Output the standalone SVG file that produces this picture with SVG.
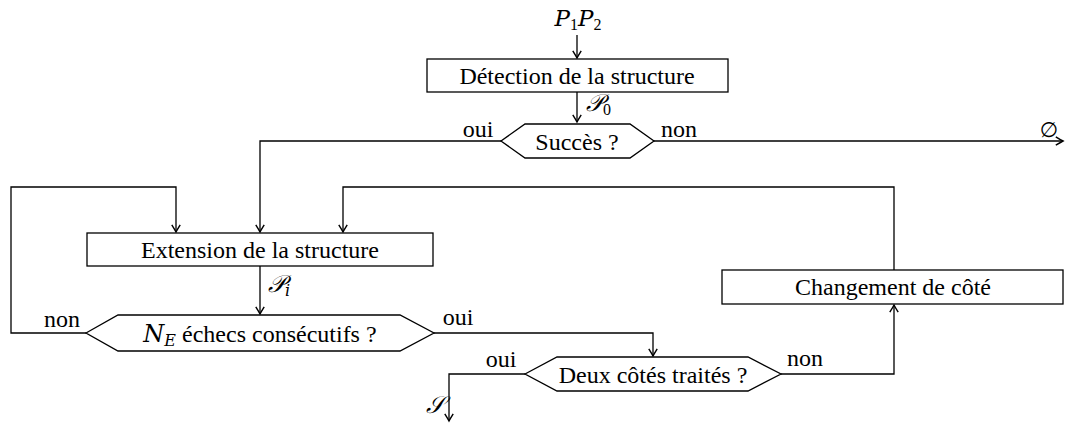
<svg xmlns="http://www.w3.org/2000/svg" width="1065" height="423" viewBox="0 0 1065 423">
<style>
text{font-family:"Liberation Serif","Times New Roman",serif;font-size:24px;fill:#000}
.m{font-family:"DejaVu Serif","Liberation Serif",serif;font-style:italic}
.s{font-size:16px}
.c{text-anchor:middle}
.sh{fill:#fff;stroke:#000;stroke-width:1.3}
.ln{fill:none;stroke:#000;stroke-width:1.3}
</style>
<defs>
<marker id="ar" markerUnits="userSpaceOnUse" markerWidth="12" markerHeight="12" viewBox="-8 -5 10 10" refX="0" refY="0" orient="auto">
<path d="M-6,-3.5 Q-2,-1 0,0 Q-2,1 -6,3.5" fill="none" stroke="#000" stroke-width="1.2"/>
</marker>
</defs>
<g id="connectors" class="ln" marker-end="url(#ar)">
<path d="M577,35 V58"/>
<path d="M577,92 V122"/>
<path d="M501,141 H260 V232"/>
<path d="M654,141 H1063"/>
<path d="M260,266 V314"/>
<path d="M86,333 H11 V187 H176 V232"/>
<path d="M894,270 V187 H343 V232"/>
<path d="M434,333 H653 V356"/>
<path d="M525,374 H449 V421"/>
<path d="M781,374 H894 V305"/>
</g>
<g id="input"><text x="578" y="26" class="c" style="font-size:23px"><tspan class="m">P</tspan><tspan class="s" dy="4" style="font-style:normal">1</tspan><tspan class="m" dy="-4">P</tspan><tspan class="s" dy="4">2</tspan></text></g>
<g id="detection"><rect class="sh" x="427" y="59" width="301" height="33"/><text x="577" y="84" class="c">Détection de la structure</text></g>
<g id="p0"><text x="586" y="111"><tspan class="m">𝒫</tspan><tspan class="s" dy="4">0</tspan></text></g>
<g id="succes"><polygon class="sh" points="501,141 525,124 630,124 654,141 630,158 525,158"/><text x="577" y="150" class="c">Succès ?</text>
<text x="478" y="137" class="c">oui</text><text x="679" y="137" class="c">non</text></g>
<g id="empty"><text x="1049" y="137" class="c" style="font-family:'DejaVu Sans',sans-serif;font-size:21px">∅</text></g>
<g id="extension"><rect class="sh" x="87" y="233" width="346" height="33"/><text x="260" y="258" class="c">Extension de la structure</text></g>
<g id="pi"><text x="268" y="292"><tspan class="m">𝒫</tspan><tspan class="s m" dy="4">i</tspan></text></g>
<g id="echecs"><polygon class="sh" points="86,333 118,315 400,315 434,333 400,351 118,351"/><text x="260" y="342" class="c"><tspan class="m">N</tspan><tspan class="s m" dy="4">E</tspan><tspan dy="-4"> échecs consécutifs ?</tspan></text>
<text x="62" y="327" class="c">non</text><text x="458" y="325" class="c">oui</text></g>
<g id="changement"><rect class="sh" x="722" y="270" width="341" height="34"/><text x="893" y="295" class="c">Changement de côté</text></g>
<g id="deux"><polygon class="sh" points="525,374 557,357 748,357 781,374 748,391 557,391"/><text x="653" y="383" class="c">Deux côtés traités ?</text>
<text x="501" y="367" class="c">oui</text><text x="805" y="366" class="c">non</text></g>
<g id="result"><text x="435" y="413" class="c"><tspan class="m">𝒮</tspan></text></g>
</svg>
